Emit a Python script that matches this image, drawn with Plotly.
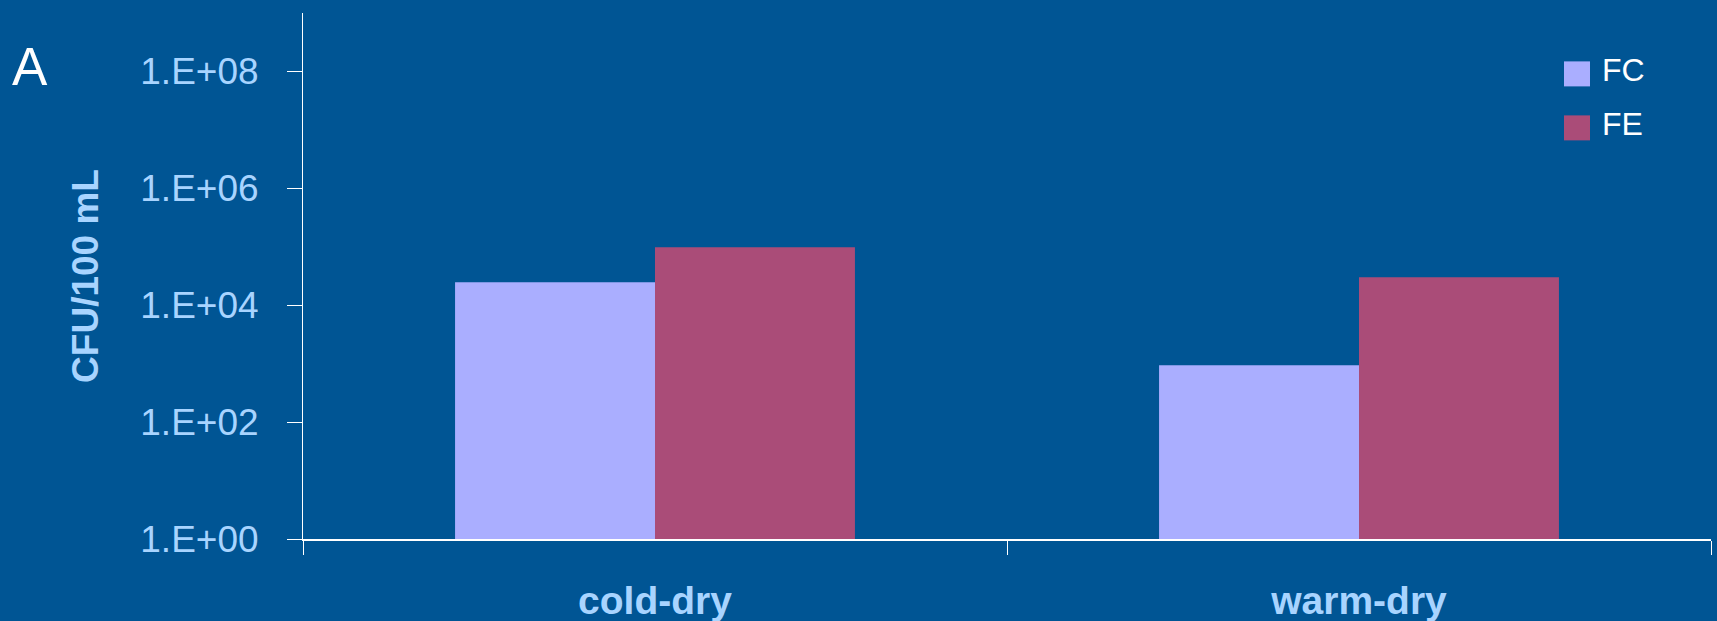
import plotly.graph_objects as go

categories = ["cold-dry", "warm-dry"]
series_names = ["FC", "FE"]
fc_values = [2.46e4, 9.4e2]
fe_values = [9.8e4, 3.0e4]
y_tickvals = [1e0, 1e2, 1e4, 1e6, 1e8]
y_ticktext = ["1.E+00", "1.E+02", "1.E+04", "1.E+06", "1.E+08"]

BG = "#005594"
LIGHT = "#A8D4FF"
FC_COLOR = "#AAAEFF"
FE_COLOR = "#AA4C78"
FONT = "Liberation Sans, Arial, sans-serif"

fig = go.Figure()
fig.add_trace(go.Bar(x=categories, y=fc_values, name=series_names[0],
                     marker=dict(color=FC_COLOR, line=dict(width=0)), showlegend=False))
fig.add_trace(go.Bar(x=categories, y=fe_values, name=series_names[1],
                     marker=dict(color=FE_COLOR, line=dict(width=0)), showlegend=False))

W, H = 1717, 621
L, R, T, B = 303, 6, 12.6, 82.3
pw, ph = W - L - R, H - T - B

def px(x):
    return (x - L) / pw

def py(y):
    return (H - B - y) / ph

fig.update_layout(
    width=W, height=H,
    margin=dict(l=L, r=R, t=T, b=B, autoexpand=False),
    paper_bgcolor=BG, plot_bgcolor=BG,
    barmode="group", bargap=0.432, bargroupgap=0,
    font=dict(family=FONT, color=LIGHT),
    xaxis=dict(type="category", range=[-0.5, 1.5], showgrid=False, zeroline=False,
               showline=True, linecolor="white", linewidth=1.5,
               ticks="outside", tickson="boundaries", ticklen=14, tickwidth=1,
               tickcolor="white",
               tickfont=dict(size=39, color=LIGHT, family=FONT, weight="bold"),
               ticklabelstandoff=26, automargin=False),
    yaxis=dict(type="log", range=[0, 9], showgrid=False, zeroline=False,
               showline=True, linecolor="white", linewidth=1,
               ticks="outside", ticklen=15, tickwidth=1, tickcolor="white",
               tickvals=y_tickvals, ticktext=y_ticktext,
               tickfont=dict(size=37, color=LIGHT, family=FONT),
               ticklabelstandoff=21, automargin=False,
               title=dict(text="CFU/100 mL", standoff=30,
                          font=dict(size=37, color=LIGHT, family=FONT, weight="bold"))),
    showlegend=False,
)

# legend built from series names/colors
legend_colors = [FC_COLOR, FE_COLOR]
legend_tops = [61, 115]
for name, col, top in zip(series_names, legend_colors, legend_tops):
    fig.add_shape(type="rect", xref="paper", yref="paper",
                  x0=px(1564), x1=px(1590), y0=py(top + 25), y1=py(top),
                  fillcolor=col, line=dict(width=0), layer="above")
    fig.add_annotation(xref="paper", yref="paper", x=px(1600), y=py(top + 9),
                       xanchor="left", yanchor="middle", showarrow=False,
                       text=name, font=dict(size=32, color="white", family=FONT))

fig.add_annotation(xref="paper", yref="paper", x=px(10), y=py(66),
                   xanchor="left", yanchor="middle", showarrow=False,
                   text="A", font=dict(size=53, color="white", family=FONT))

fig.write_html("out.html")
